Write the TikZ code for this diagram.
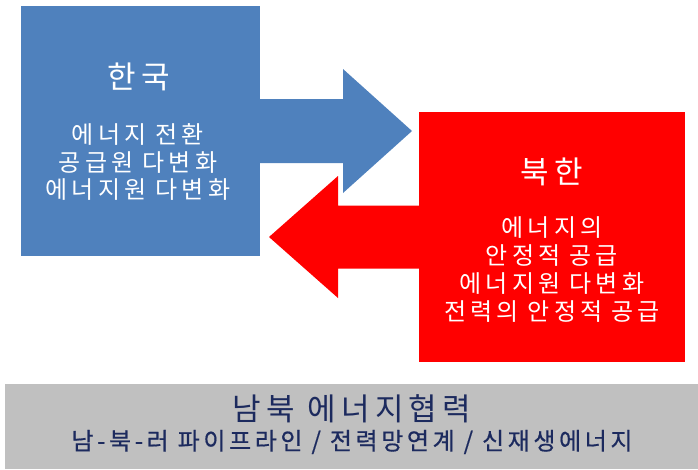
\documentclass[tikz,border=0pt]{standalone}
\usepackage{fontspec}
\setmainfont{Noto Sans CJK KR}
\newfontfamily\kofont[LetterSpace=17]{Noto Sans CJK KR}
\newfontfamily\kotitle[LetterSpace=17]{Noto Sans CJK KR}
\newfontfamily\kobold[LetterSpace=15,FakeBold=0.6]{Noto Sans CJK KR}
\usepackage{xcolor}
\usetikzlibrary{calc}

\definecolor{krblue}{HTML}{4F81BD}
\definecolor{nkred}{HTML}{FF0000}
\definecolor{bargray}{HTML}{C0C0C0}
\definecolor{navytext}{HTML}{1C2A5E}

\begin{document}
\begin{tikzpicture}[
			x=1pt,y=-1pt,
			every node/.style={inner sep=0pt,outer sep=0pt},
			panel/.style={draw=none,minimum height=250pt},
			heading/.style={font=\kotitle\fontsize{31}{36}\selectfont,text=white},
			body/.style={font=\kofont\fontsize{24}{27.7}\selectfont,text=white,align=center}
			]
			
			\useasboundingbox (0,0) rectangle (698,469);
			
			% Boxes
			\node[panel,fill=krblue,minimum width=239pt] (kr) at (140.5,131){};
			\node[panel,fill=nkred,minimum width=266pt] (nk) at (552,237){};
			
			% Arrows
			\coordinate (krtip) at (412,131);
			\coordinate (nktip) at (269,237);
			\fill[krblue] ($(kr.east)+(0,-32)$) -- (343,99) -- (343,69) -- (krtip)
				-- (343,193) -- (343,163) -- ($(kr.east)+(0,32)$) -- cycle;
			\fill[nkred] ($(nk.west)+(0,-31.5)$) -- (338,205.5) -- (338,176) -- (nktip)
				-- (338,298) -- (338,268.5) -- ($(nk.west)+(0,31.5)$) -- cycle;
			
			% South
			\node[heading] (krtitle) at (139,77){한국};
			\node[body] (krtext) at (138,162){에너지 전환\\공급원 다변화\\에너지원 다변화};
			
			% North
			\node[heading] (nktitle) at (552,172){북한};
			\node[body] (nktext) at (552,269.5){에너지의\\안정적 공급\\에너지원 다변화\\전력의 안정적 공급};
			
			% Cooperation
			\node[fill=bargray,minimum width=693pt,minimum height=85pt] (bar) at (351.5,426.5){};
			\node[font=\kotitle\fontsize{31}{36}\selectfont,text=navytext] (coop) at (352,409){남북 에너지협력};
			\node[font=\kobold\fontsize{24}{28}\selectfont,text=navytext] (links) at (352,442){남-북-러 파이프라인 / 전력망연계 / 신재생에너지};
			
		\end{tikzpicture}
\end{document}
